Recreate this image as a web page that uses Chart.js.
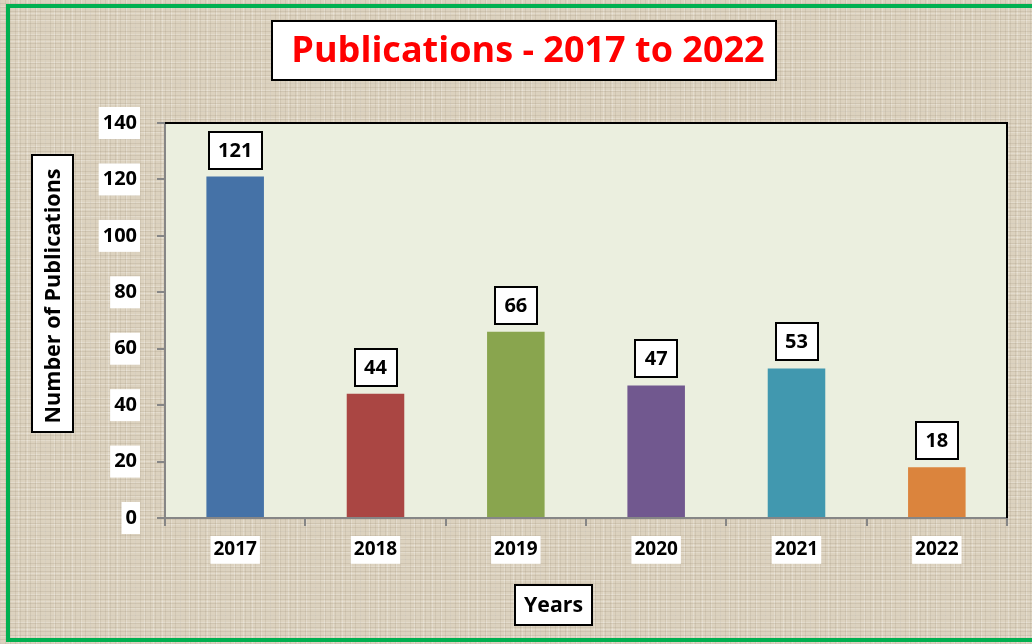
<!DOCTYPE html>
<html><head><meta charset="utf-8">
<script src="https://cdn.jsdelivr.net/npm/chart.js@4"></script>
<style>
html,body{margin:0;padding:0;}
body{width:1032px;height:644px;overflow:hidden;position:relative;background:#dcd2bf;}
#wrap{position:absolute;left:0;top:0;width:1032px;height:644px;
 background-color:#dcd2bf;
 background-image:
  repeating-linear-gradient(0deg, rgba(140,125,100,0.16) 0 1px, transparent 1px 4px),
  repeating-linear-gradient(90deg, rgba(140,125,100,0.14) 0 1px, transparent 1px 5px),
  repeating-linear-gradient(0deg, rgba(255,255,255,0.20) 0 1px, transparent 1px 7px),
  repeating-linear-gradient(90deg, rgba(255,255,255,0.22) 0 1px, transparent 1px 9px);}
#frame{position:absolute;left:6px;top:4px;width:1060px;height:638px;border:4px solid #00b050;box-sizing:border-box;}
canvas{position:absolute;left:0;top:0;}
</style>
</head><body>
<div id="wrap"></div>
<div id="frame"></div>
<canvas id="c" width="1032" height="644"></canvas>
<script>
const years = ['2017','2018','2019','2020','2021','2022'];
const publications = [121, 44, 66, 47, 53, 18];
const barColors = ['#4572A7','#AA4643','#89A54E','#71588F','#4198AF','#DB843D'];
const titleText = 'Publications - 2017 to 2022';
const yTitleText = 'Number of Publications';
const xTitleText = 'Years';

const FONT = '"Open Sans", Lato, sans-serif';

function boxRect(ctx, x, y, w, h){
  ctx.fillStyle = '#ffffff';
  ctx.fillRect(x, y, w, h);
  ctx.strokeStyle = '#000000';
  ctx.lineWidth = 2;
  ctx.strokeRect(x, y, w, h);
}

function fitFont(ctx, text, base, target){
  ctx.font = 'bold ' + base + 'px ' + FONT;
  const w = ctx.measureText(text).width;
  const s = base * target / w;
  ctx.font = 'bold ' + s.toFixed(1) + 'px ' + FONT;
}

const decor = {
  id: 'decor',
  beforeDraw(chart){
    const {ctx, chartArea: a} = chart;
    ctx.save();
    ctx.fillStyle = '#ebefdf';
    ctx.fillRect(a.left, a.top, a.right - a.left, a.bottom - a.top);
    ctx.restore();
  },
  afterDatasetsDraw(chart){
    const {ctx, chartArea: a} = chart;
    ctx.save();
    ctx.strokeStyle = '#000000';
    ctx.lineWidth = 2;
    ctx.beginPath();
    ctx.moveTo(a.left, a.top);
    ctx.lineTo(a.right, a.top);
    ctx.lineTo(a.right, a.bottom);
    ctx.stroke();

    const meta = chart.getDatasetMeta(0);
    ctx.font = 'bold 20px ' + FONT;
    ctx.textAlign = 'center';
    ctx.textBaseline = 'middle';
    meta.data.forEach((bar, i) => {
      const txt = String(chart.data.datasets[0].data[i]);
      const tw = ctx.measureText(txt).width;
      const w = Math.round(tw + 19), h = 37;
      const x = Math.round(bar.x - w / 2), y = Math.round(bar.y - 8 - h);
      boxRect(ctx, x, y, w, h);
      ctx.fillStyle = '#000000';
      ctx.fillText(txt, bar.x, y + h / 2 + 1);
    });

    boxRect(ctx, 272, 21, 504, 59);
    fitFont(ctx, titleText, 36, 473);
    ctx.fillStyle = '#ff0000';
    ctx.fillText(titleText, 528, 52);

    boxRect(ctx, 32, 155, 41, 277);
    ctx.save();
    ctx.translate(53, 296);
    ctx.rotate(-Math.PI / 2);
    fitFont(ctx, yTitleText, 20, 255);
    ctx.fillStyle = '#000000';
    ctx.fillText(yTitleText, 0, 1);
    ctx.restore();

    boxRect(ctx, 515, 585, 77, 40);
    fitFont(ctx, xTitleText, 22, 59);
    ctx.fillStyle = '#000000';
    ctx.fillText(xTitleText, 553.5, 606);
    ctx.restore();
  }
};

new Chart(document.getElementById('c'), {
  type: 'bar',
  data: {
    labels: years,
    datasets: [{
      data: publications,
      backgroundColor: barColors,
      borderWidth: 0,
      categoryPercentage: 1.0,
      barPercentage: 0.41
    }]
  },
  options: {
    responsive: false,
    devicePixelRatio: 1,
    animation: false,
    layout: { padding: { left: 80, top: 123, right: 25, bottom: 66 } },
    plugins: { legend: { display: false }, tooltip: { enabled: false }, title: { display: false } },
    scales: {
      x: {
        afterFit(s){ s.height = 60; },
        border: { color: '#868686', width: 2 },
        grid: { offset: true, drawOnChartArea: false, drawTicks: true, tickLength: 8, color: '#868686', lineWidth: 2 },
        ticks: {
          color: '#000000',
          font: { family: FONT, size: 19, weight: 'bold' },
          padding: 12,
          maxRotation: 0,
          showLabelBackdrop: true,
          backdropColor: '#ffffff',
          backdropPadding: { left: 3, right: 3, top: 2, bottom: 3 }
        }
      },
      y: {
        min: 0, max: 140,
        afterFit(s){ s.width = 85; },
        border: { color: '#868686', width: 2 },
        grid: { drawOnChartArea: false, drawTicks: true, tickLength: 8, color: '#868686', lineWidth: 2 },
        ticks: {
          stepSize: 20,
          color: '#000000',
          font: { family: FONT, size: 20, weight: 'bold' },
          padding: 20,
          showLabelBackdrop: true,
          backdropColor: '#ffffff',
          backdropPadding: { left: 4, right: 3, top: 4, bottom: 4 }
        }
      }
    }
  },
  plugins: [decor]
});
</script>
</body></html>
